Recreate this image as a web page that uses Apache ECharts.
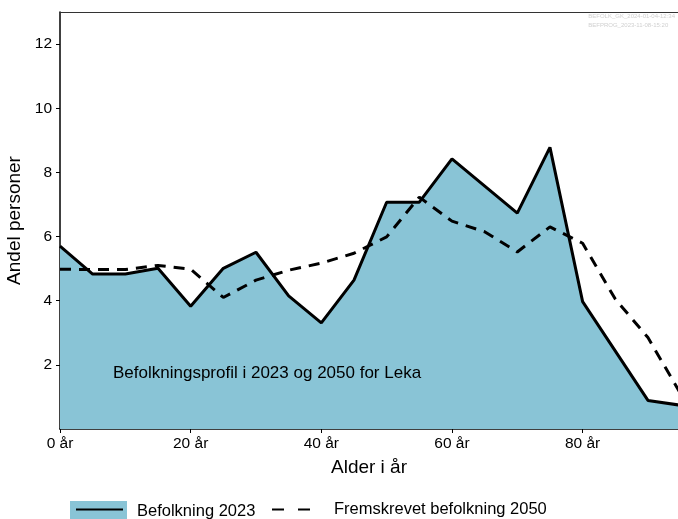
<!DOCTYPE html>
<html>
<head>
<meta charset="utf-8">
<script src="https://cdn.jsdelivr.net/npm/echarts@6/dist/echarts.min.js"></script>
<style>
  html, body { margin: 0; padding: 0; background: #fff; }
  #main { width: 678px; height: 519px; }
</style>
</head>
<body>
<div id="main"></div>
<script>
// population share by age, 2023 (solid, filled)
var ages2023 = [0, 5, 10, 15, 20, 25, 30, 35, 40, 45, 50, 55, 60, 70, 75, 80, 90, 95];
var share2023 = [5.70, 4.83, 4.83, 5.01, 3.83, 5.01, 5.51, 4.15, 3.31, 4.64, 7.07, 7.07, 8.42, 6.73, 8.78, 3.97, 0.89, 0.74];
// projected population 2050 (dashed)
var ages2050 = [0, 5, 10, 15, 20, 25, 30, 35, 40, 45, 50, 55, 60, 65, 70, 75, 80, 85, 90, 95];
var share2050 = [4.98, 4.97, 4.97, 5.10, 4.98, 4.10, 4.64, 4.95, 5.17, 5.48, 5.99, 7.23, 6.48, 6.15, 5.52, 6.30, 5.79, 4.05, 2.85, 1.10];
var xTicks = [0, 20, 40, 60, 80];
var yTicks = [2, 4, 6, 8, 10, 12];

var fillColor = '#89c4d6';
var font = 'Liberation Sans, Arial, sans-serif';
var noSymbol = { color: 'rgba(0,0,0,0)', borderColor: 'rgba(0,0,0,0)', borderWidth: 0 };

function pairs(xs, ys) {
    return xs.map(function (x, i) { return [x, ys[i]]; });
}

var chart = echarts.init(document.getElementById('main'));
chart.setOption({
    backgroundColor: '#fff',
    animation: false,
    textStyle: { fontFamily: font },
    title: [{
        text: 'Befolkningsprofil i 2023 og 2050 for Leka',
        left: 113, top: 365,
        padding: 0,
        textStyle: { fontSize: 17, fontWeight: 'normal', color: '#000', fontFamily: font }
    }, {
        text: 'BEFOLK_GK_2024-01-04-12:34\nBEFPROG_2023-11-08-15:20',
        right: 3, top: 12,
        padding: 0,
        textStyle: { fontSize: 6, fontWeight: 'normal', color: '#d0d0d0', lineHeight: 9, fontFamily: font, align: 'right' }
    }],
    legend: [{
        left: 70, top: 501, padding: 0,
        itemWidth: 57, itemHeight: 20,
        icon: 'rect',
        selectedMode: false,
        data: [{ name: 'Befolkning 2023', itemStyle: { color: fillColor } }],
        textStyle: { fontSize: 16.5, color: '#000', padding: [0, 0, 0, 5] }
    }, {
        left: 75, top: 501, padding: 0,
        itemWidth: 47, itemHeight: 20,
        selectedMode: false,
        itemStyle: noSymbol,
        data: ['Befolkning 2023'],
        textStyle: { fontSize: 16.5, color: 'rgba(0,0,0,0)' }
    }, {
        left: 271, top: 501, padding: 0,
        itemWidth: 38, itemHeight: 20,
        selectedMode: false,
        itemStyle: noSymbol,
        lineStyle: { type: [12, 14] },
        data: ['Fremskrevet befolkning 2050'],
        textStyle: { fontSize: 16.5, color: '#000', padding: [0, 0, 0, 19] }
    }],
    grid: { left: 60, right: 0, top: 12, bottom: 90, outerBoundsMode: 'none' },
    xAxis: [{
        type: 'value',
        min: 0, max: 94.6,
        name: 'Alder i år',
        nameLocation: 'middle',
        nameGap: 29,
        nameTextStyle: { fontSize: 19, color: '#000' },
        axisLine: { lineStyle: { color: '#000', width: 1.5 } },
        axisTick: { length: 4, customValues: xTicks, lineStyle: { color: '#000' } },
        axisLabel: {
            customValues: xTicks, fontSize: 15.5, color: '#000', margin: 7,
            formatter: function (v) { return v + ' år'; }
        },
        splitLine: { show: false }
    }, {
        type: 'value',
        position: 'top',
        min: 0, max: 94.6,
        axisLine: { show: true, onZero: false, lineStyle: { color: '#333', width: 1 } },
        axisTick: { show: false },
        axisLabel: { show: false },
        splitLine: { show: false }
    }],
    yAxis: {
        type: 'value',
        min: 0, max: 13,
        name: 'Andel personer',
        nameLocation: 'middle',
        nameGap: 31,
        nameTextStyle: { fontSize: 19, color: '#000' },
        axisLine: { show: true, lineStyle: { color: '#000', width: 1.5 } },
        axisTick: { show: true, length: 4, customValues: yTicks, lineStyle: { color: '#000' } },
        axisLabel: { customValues: yTicks, fontSize: 15.5, color: '#000', margin: 8 },
        splitLine: { show: false }
    },
    series: [{
        name: 'Befolkning 2023',
        type: 'line',
        symbol: 'none',
        data: pairs(ages2023, share2023),
        lineStyle: { color: '#000', width: 3 },
        itemStyle: { color: '#000' },
        areaStyle: { color: fillColor, opacity: 1 },
        z: 2
    }, {
        name: 'Fremskrevet befolkning 2050',
        type: 'line',
        symbol: 'none',
        data: pairs(ages2050, share2050),
        lineStyle: { color: '#000', width: 3, type: [11, 8] },
        itemStyle: { color: '#000' },
        z: 3
    }]
});
</script>
</body>
</html>
